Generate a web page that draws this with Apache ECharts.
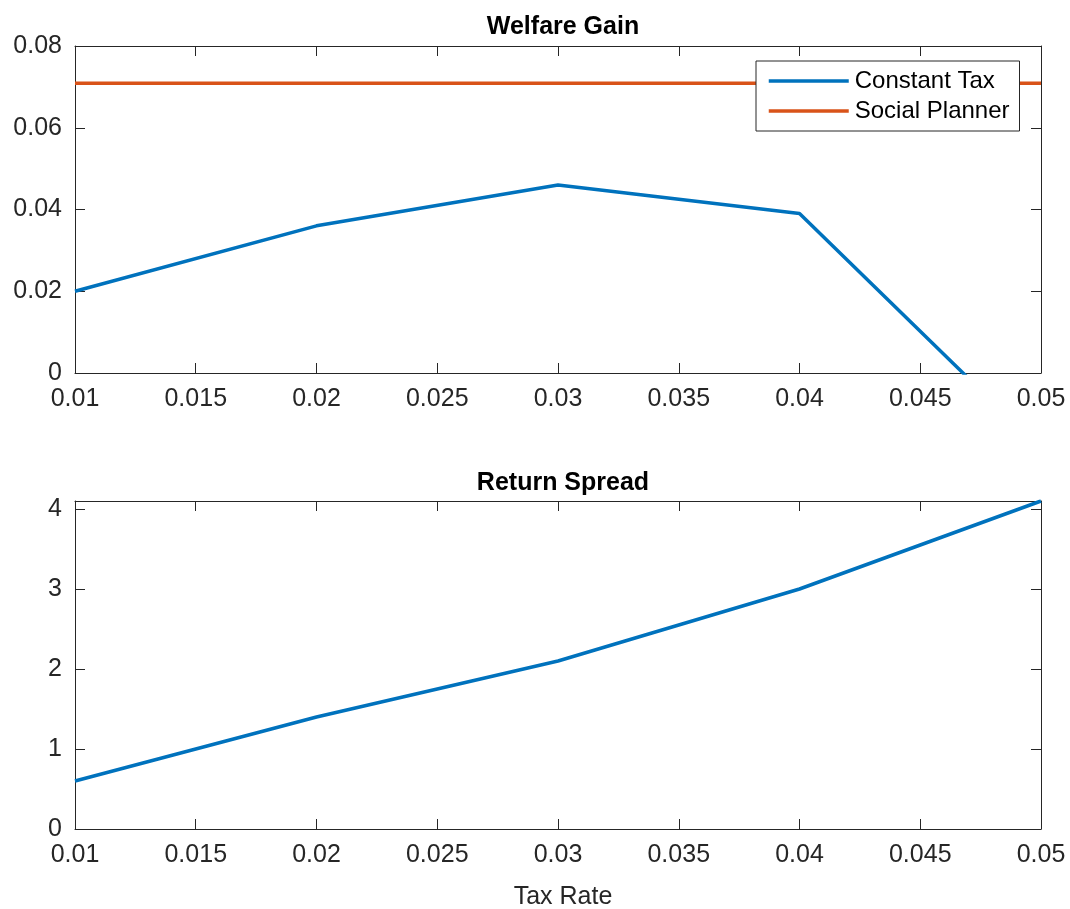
<!DOCTYPE html>
<html>
<head>
<meta charset="utf-8">
<script src="https://cdn.jsdelivr.net/npm/echarts@6/dist/echarts.min.js"></script>
<style>html,body{margin:0;padding:0;background:#fff}#c{width:1070px;height:909px}</style>
</head>
<body>
<div id="c"></div>
<script>
// Data
const taxRates = [0.01, 0.02, 0.03, 0.04, 0.05];
const welfareConstantTax = [0.0200, 0.0360, 0.0460, 0.0390, -0.0186];
const welfareSocialPlanner = [0.0709, 0.0709, 0.0709, 0.0709, 0.0709];
const returnSpread = [0.60, 1.40, 2.10, 3.00, 4.10];
const xTicks = { min: 0.01, max: 0.05, interval: 0.005 };
const topY = { min: 0, max: 0.08, interval: 0.02 };
const botY = { min: 0, max: 4.1, interval: 1 };

const FONT = "'Liberation Sans', Arial, Helvetica, sans-serif";
const AX = '#262626';
const BLUE = '#0072BD', ORANGE = '#D95319';
const pairs = a => taxRates.map((x, i) => [x, a[i]]);

function xAx(gi, pos, show) {
  return {
    type: 'value', gridIndex: gi, position: pos,
    min: xTicks.min, max: xTicks.max, interval: xTicks.interval,
    axisLine: { show: true, onZero: false, lineStyle: { color: AX, width: 1 } },
    axisTick: { show: true, inside: true, length: 10, lineStyle: { color: AX } },
    axisLabel: { show: show, color: AX, fontSize: 25, fontFamily: FONT, margin: 14,
      formatter: v => String(+v.toFixed(4)) },
    splitLine: { show: false }
  };
}
function yAx(gi, pos, show, ext, hideMax) {
  return {
    type: 'value', gridIndex: gi, position: pos,
    min: ext.min, max: ext.max, interval: ext.interval,
    axisLine: { show: true, onZero: false, lineStyle: { color: AX, width: 1 } },
    axisTick: { show: true, inside: true, length: 10, lineStyle: { color: AX } },
    axisLabel: { show: show, color: AX, fontSize: 25, fontFamily: FONT, margin: 13,
      showMaxLabel: !hideMax,
      formatter: v => String(+v.toFixed(4)) },
    splitLine: { show: false }
  };
}

const chart = echarts.init(document.getElementById('c'), null, { renderer: 'canvas' });
chart.setOption({
  backgroundColor: '#fff',
  animation: false,
  title: [
    { text: 'Welfare Gain', left: 558, top: 10, textAlign: 'center',
      textStyle: { fontFamily: FONT, fontSize: 25, fontWeight: 'bold', color: '#000' } },
    { text: 'Return Spread', left: 558, top: 466, textAlign: 'center',
      textStyle: { fontFamily: FONT, fontSize: 25, fontWeight: 'bold', color: '#000' } },
    { text: 'Tax Rate', left: 558, top: 880, textAlign: 'center',
      textStyle: { fontFamily: FONT, fontSize: 25, fontWeight: 'normal', color: AX } }
  ],
  legend: {
    orient: 'vertical', left: 756, top: 61,
    padding: [8, 10, 8, 11], itemGap: 6, itemWidth: 80, itemHeight: 24,
    borderColor: '#262626', borderWidth: 1, backgroundColor: '#fff',
    itemStyle: { opacity: 0 },
    lineStyle: { width: 3.5 },
    textStyle: { fontFamily: FONT, fontSize: 24, color: '#000', padding: [2, 0, 0, 1] },
    data: ['Constant Tax', 'Social Planner']
  },
  grid: [
    { left: 75, top: 46, width: 966, height: 327 },
    { left: 75, top: 501, width: 966, height: 328 }
  ],
  xAxis: [xAx(0, 'bottom', true), xAx(0, 'top', false), xAx(1, 'bottom', true), xAx(1, 'top', false)],
  yAxis: [yAx(0, 'left', true, topY, false), yAx(0, 'right', false, topY, false),
          yAx(1, 'left', true, botY, true), yAx(1, 'right', false, botY, true)],
  series: [
    { name: 'Constant Tax', type: 'line', xAxisIndex: 0, yAxisIndex: 0, data: pairs(welfareConstantTax),
      symbol: 'none', clip: true, lineStyle: { color: BLUE, width: 3.5 }, itemStyle: { color: BLUE } },
    { name: 'Social Planner', type: 'line', xAxisIndex: 0, yAxisIndex: 0, data: pairs(welfareSocialPlanner),
      symbol: 'none', clip: true, lineStyle: { color: ORANGE, width: 3.5 }, itemStyle: { color: ORANGE } },
    { name: 'Return Spread', type: 'line', xAxisIndex: 2, yAxisIndex: 2, data: pairs(returnSpread),
      symbol: 'none', clip: true, lineStyle: { color: BLUE, width: 3.5 }, itemStyle: { color: BLUE } }
  ]
});
</script>
</body>
</html>
